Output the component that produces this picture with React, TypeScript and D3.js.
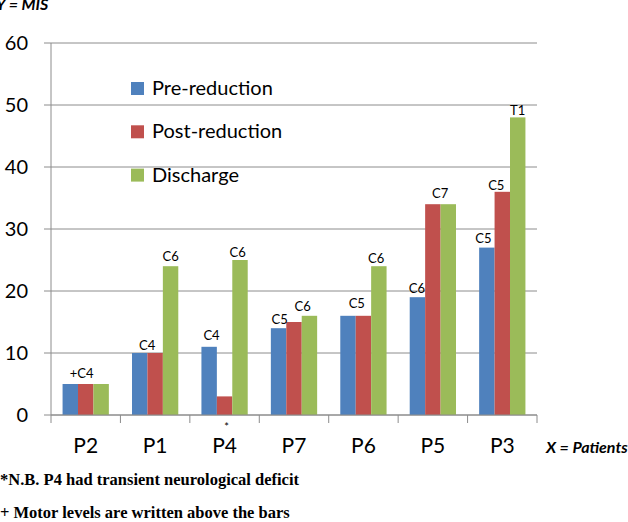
import React from "react";
import * as d3 from "d3";

const patients = ["P2", "P1", "P4", "P7", "P6", "P5", "P3"];
const seriesNames = ["Pre-reduction", "Post-reduction", "Discharge"];
const preReduction = [5, 10, 11, 14, 16, 19, 27];
const postReduction = [5, 10, 3, 15, 16, 34, 36];
const discharge = [5, 24, 25, 16, 24, 34, 48];
const yTicks = [0, 10, 20, 30, 40, 50, 60];

// motor level annotations: patient, series index, text
const motorLevels: [string, number, string][] = [
  ["P2", 1, "+C4"],
  ["P1", 0, "C4"],
  ["P1", 2, "C6"],
  ["P4", 0, "C4"],
  ["P4", 2, "C6"],
  ["P7", 0, "C5"],
  ["P7", 2, "C6"],
  ["P6", 0, "C5"],
  ["P6", 2, "C6"],
  ["P5", 0, "C6"],
  ["P5", 1, "C7"],
  ["P3", 0, "C5"],
  ["P3", 1, "C5"],
  ["P3", 2, "T1"],
];
// label nudges (dx, dy above bar top), in px
const labelNudge: [number, number][] = [
  [-4, 6.5], [7.5, 3.5], [0, 5], [2.4, 7], [-2.4, 3.5], [1, 4.7], [-6.8, 5.3],
  [8.8, 8], [-2.7, 3.7], [-0.6, 4.7], [7.3, 6.7], [-3.4, 5], [-6, 2.3], [0, 2.4],
];

const colors = ["#4F81BD", "#C0504D", "#9BBB59"];
const W = 628, H = 522;
const left = 51, right = 537, top = 43, bottom = 415;
const FONT = "Lato, Carlito, 'Open Sans', sans-serif";
const SERIF = "'Liberation Serif', 'Times New Roman', serif";

export default function App() {
  const series = [preReduction, postReduction, discharge];
  const x = d3.scaleBand<string>().domain(patients).range([left, right]).paddingInner(0).paddingOuter(0);
  const bw = x.bandwidth();
  // Excel gap 150%: group width = 3w, gap = 1.5w => w = bw/4.5
  const w = bw / 4.5;
  const groupStart = (p: string) => (x(p) as number) + (bw - 3 * w) / 2;
  const y = d3.scaleLinear().domain([0, 60]).range([bottom, top]);
  const gridColor = "#8c8c8c";

  return (
    <svg width={W} height={H} style={{ position: "absolute", left: 0, top: 0, background: "#fff" }} fontFamily={FONT}>
      {/* gridlines */}
      {yTicks.map((t) => (
        <g key={t}>
          <line x1={left - 7} x2={right} y1={y(t)} y2={y(t)} stroke={gridColor} strokeWidth={1} />
          <text x={28} y={y(t)} dy="0.35em" textAnchor="end" fontSize={20} fill="#000">{t}</text>
        </g>
      ))}
      {/* y axis */}
      <line x1={left} x2={left} y1={top} y2={bottom} stroke={gridColor} strokeWidth={1} />
      {/* bars */}
      {series.map((vals, si) =>
        patients.map((p, i) => (
          <rect key={si + "-" + p} x={groupStart(p) + si * w} width={w} y={y(vals[i])} height={bottom - y(vals[i])} fill={colors[si]} />
        ))
      )}
      {/* x axis */}
      <line x1={left} x2={right} y1={bottom} y2={bottom} stroke={gridColor} strokeWidth={1} />
      {patients.concat(["end"]).map((p, i) => {
        const xx = left + i * bw;
        return <line key={"t" + i} x1={xx} x2={xx} y1={bottom} y2={bottom + 8} stroke={gridColor} strokeWidth={1} />;
      })}
      {patients.map((p) => (
        <text key={"xl" + p} x={(x(p) as number) + bw / 2} y={453} textAnchor="middle" fontSize={21} fill="#000">{p}</text>
      ))}
      <text x={(x("P4") as number) + bw / 2 + 2} y={431} textAnchor="middle" fontSize={11} fill="#000">*</text>
      {/* motor level labels */}
      {motorLevels.map(([p, si, txt], k) => {
        const i = patients.indexOf(p);
        const v = series[si][i];
        const cx = groupStart(p) + si * w + w / 2 + labelNudge[k][0];
        return (
          <text key={"ml" + k} x={cx} y={y(v) - labelNudge[k][1]} textAnchor="middle" fontSize={13} fill="#000">{txt}</text>
        );
      })}
      {/* legend */}
      {seriesNames.map((n, si) => (
        <g key={n} transform={`translate(131, ${82 + si * 43.3})`}>
          <rect x={0} y={0} width={13} height={13} fill={colors[si]} />
          <text x={21} y={13} fontSize={20} fill="#000">{n}</text>
        </g>
      ))}
      {/* axis titles */}
      <text x={-4} y={10} fontSize={16} fontWeight="bold" fontStyle="italic" fill="#000">Y = MIS</text>
      <text x={546} y={453} fontSize={16} fontWeight="bold" fontStyle="italic" fill="#000">X = Patients</text>
      {/* footnotes */}
      <text x={0} y={485} fontFamily={SERIF} fontWeight="bold" fontSize={16.5} fill="#000">*N.B. P4 had transient neurological deficit</text>
      <text x={0} y={518} fontFamily={SERIF} fontWeight="bold" fontSize={16.5} fill="#000">+ Motor levels are written above the bars</text>
    </svg>
  );
}
